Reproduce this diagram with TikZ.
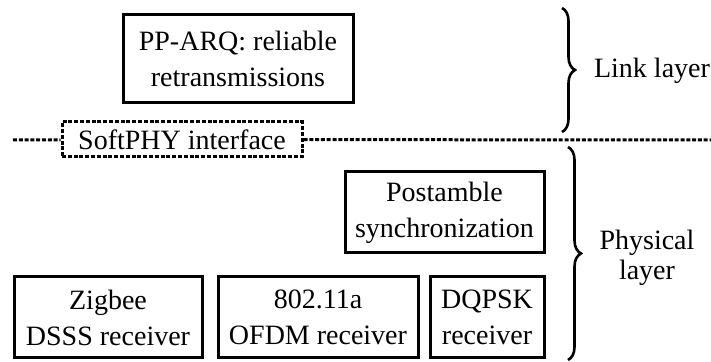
\documentclass[tikz,border=0pt]{standalone}
\usepackage{fontspec}
\setmainfont{Liberation Serif}
\usetikzlibrary{decorations.pathreplacing}
\tikzset{
  blk/.style={draw,line width=1.5pt,align=center,inner sep=0pt,
    minimum height=40.5pt,font=\fontsize{14}{18}\selectfont},
  dsh/.style={line width=1.5pt,dash pattern=on 2pt off 0.9pt},
  brc/.style={line width=1.3pt,decorate,decoration={brace,amplitude=6.5pt}},
  lbl/.style={align=center,font=\fontsize{14}{15}\selectfont}
}
\begin{document}
\begin{tikzpicture}[x=0.5pt,y=-0.5pt]
\useasboundingbox (0,0) rectangle (711,362);
% link layer
\node[blk,minimum width=115pt,minimum height=44pt] (arq) at (238,59) {PP-ARQ: reliable\\retransmissions};
% interface
\node[blk,dsh,minimum width=120pt,minimum height=17.5pt] (soft) at (182,139.5) {SoftPHY interface};
\coordinate (dl) at (13,140);
\coordinate (dr) at (711,140);
\draw[dsh] (dl)--(soft);
\draw[dsh] (soft)--(dr);
% physical layer
\node[blk,minimum width=99.5pt] (post) at (444.5,212.5) {Postamble\\synchronization};
\node[blk,minimum width=94pt] (zig) at (108,317.5) {Zigbee\\DSSS receiver};
\node[blk,minimum width=100pt] (ofdm) at (318,317.5) {802.11a\\OFDM receiver};
\node[blk,minimum width=57pt] (dqpsk) at (487,317.5) {DQPSK\\receiver};
% braces
\coordinate (lt) at (562,8);
\coordinate (lb) at (562,132);
\coordinate (pt) at (568,147);
\coordinate (pb) at (568,360);
\draw[brc] (lt)--(lb);
\draw[brc] (pt)--(pb);
\node[lbl,anchor=west] (link) at (587,71) {Link layer};
\node[lbl] (phy) at (647,258) {Physical\\layer};
\end{tikzpicture}
\end{document}
